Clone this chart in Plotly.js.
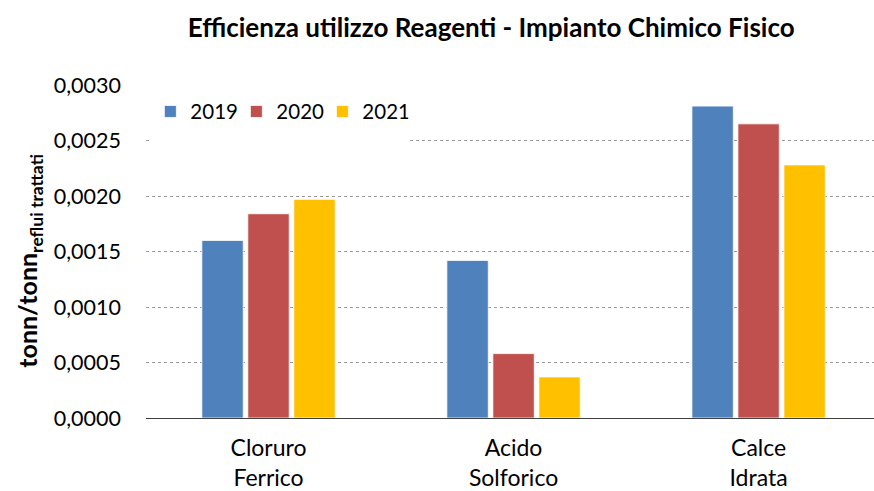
<!DOCTYPE html>
<html>
<head>
<meta charset="utf-8">
<script src="https://cdn.plot.ly/plotly-3.0.1.min.js"></script>
<style>
  body { margin: 0; background: #fff; }
  #chart { width: 874px; height: 491px; }
</style>
</head>
<body>
<div id="chart"></div>
<script>
// categories and values
const categories = ['Cloruro<br>Ferrico', 'Acido<br>Solforico', 'Calce<br>Idrata'];
const years = ['2019', '2020', '2021'];
const values2019 = [0.00160, 0.00142, 0.00281];
const values2020 = [0.00184, 0.00058, 0.00265];
const values2021 = [0.00197, 0.00037, 0.00228];
const colors = ['#4F81BD', '#C0504D', '#FFC000'];

const series = [values2019, values2020, values2021];
const font = 'Lato, "Open Sans", sans-serif';

const data = series.map((vals, i) => ({
  type: 'bar',
  name: years[i],
  x: categories,
  y: vals,
  marker: { color: colors[i], line: { color: '#ffffff', width: 0.8 } },
  hoverinfo: 'skip'
}));

const layout = {
  width: 874,
  height: 491,
  margin: { l: 146, r: 0, t: 85, b: 73 },
  paper_bgcolor: '#ffffff',
  plot_bgcolor: '#ffffff',
  separators: ',.',
  font: { family: font, size: 21, color: '#000' },
  title: {
    text: '<b>Efficienza utilizzo Reagenti - Impianto Chimico Fisico</b>',
    font: { family: font, size: 26, color: '#000' },
    x: 0.562, xanchor: 'center', y: 0.943, yanchor: 'middle'
  },
  barmode: 'group',
  bargap: 0.437,
  bargroupgap: 0.1,
  showlegend: true,
  legend: {
    orientation: 'h',
    x: 0.006, xanchor: 'left',
    y: 0.92, yanchor: 'middle',
    bgcolor: 'rgba(0,0,0,0)',
    font: { family: font, size: 20.5, color: '#000' },
    itemwidth: 30,
    entrywidth: 41, entrywidthmode: 'pixels',
    itemclick: false
  },
  xaxis: {
    type: 'category',
    range: [-0.5, 2.471],
    showgrid: false,
    showline: true, linecolor: '#404040', linewidth: 1,
    ticks: '',
    ticklabelstandoff: 9,
    tickfont: { family: font, size: 23, color: '#000' },
    fixedrange: true
  },
  yaxis: {
    range: [0, 0.003],
    dtick: 0.0005,
    tickformat: '.4f',
    showline: false,
    zeroline: false,
    showgrid: true, gridcolor: '#9a9a9a', gridwidth: 1, griddash: 'dot',
    ticks: '',
    ticklabelstandoff: 24,
    tickfont: { family: font, size: 21.5, color: '#000' },
    fixedrange: true
  },
  annotations: [{
    text: '<b>tonn/tonn<sub>reflui trattati</sub></b>',
    font: { family: font, size: 25, color: '#000' },
    textangle: -90,
    xref: 'paper', yref: 'paper',
    x: -0.16, y: 0.471,
    xanchor: 'center', yanchor: 'middle',
    showarrow: false
  }],
  shapes: [{
    type: 'rect', xref: 'paper', yref: 'paper', layer: 'above',
    x0: 0.005, x1: 0.362, y0: 0.83, y1: 1.02,
    fillcolor: '#ffffff', line: { width: 0 }
  }]
};

Plotly.newPlot('chart', data, layout, { displayModeBar: false, staticPlot: true });
</script>
</body>
</html>
